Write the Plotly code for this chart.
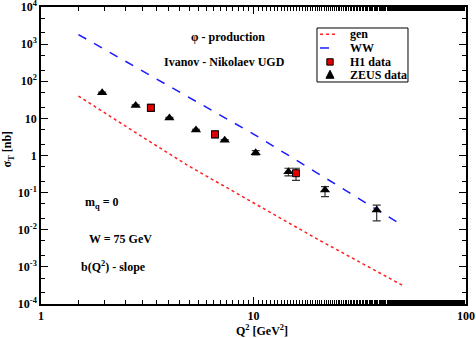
import plotly.graph_objects as go

# --- data ---
q2_curve = [1.5, 2, 3, 5, 7, 10, 15, 20, 30, 50]
sigma_gen = [40, 13.9, 3.16, 0.506, 0.168, 0.052, 0.0138, 0.00556, 0.00158, 0.000324]
sigma_ww = [1810, 714, 194, 36.9, 12.2, 3.78, 0.92, 0.336, 0.0805, 0.0133]

q2_h1 = [3.29, 6.59, 15.85]
sigma_h1 = [19.3, 3.72, 0.333]
h1_err_up = [4.5, 0.84, 0.12]
h1_err_dn = [3.9, 0.76, 0.118]

q2_zeus = [1.94, 2.79, 4.02, 5.36, 7.32, 10.24, 14.6, 21.7, 38.0]
sigma_zeus = [48.8, 22.3, 10.2, 4.84, 2.56, 1.19, 0.367, 0.118, 0.0343]
zeus_err_up = [2.0, 1.0, 0.5, 0.25, 0.13, 0.17, 0.086, 0.027, 0.012]
zeus_err_dn = [2.0, 1.0, 0.5, 0.25, 0.13, 0.15, 0.086, 0.040, 0.017]

y_tickvals = [1e-4, 1e-3, 1e-2, 1e-1, 1, 10, 100, 1000, 10000]
y_ticktext = ["10<sup>-4</sup>", "10<sup>-3</sup>", "10<sup>-2</sup>", "10<sup>-1</sup>",
              "1", "10", "10<sup>2</sup>", "10<sup>3</sup>", "10<sup>4</sup>"]
x_tickvals = [1, 10, 100]
x_ticktext = ["1", "10", "100"]

legend_names = ["gen", "WW", "H1 data", "ZEUS data"]

FONT = "Liberation Serif, Times New Roman, serif"
RED = "#ff2020"
BLUE = "#1a1aff"

fig = go.Figure()

fig.add_trace(go.Scatter(
    x=q2_curve, y=sigma_gen, mode="lines", name="gen",
    line=dict(color=RED, width=1.5, dash="dot")))

fig.add_trace(go.Scatter(
    x=q2_curve, y=sigma_ww, mode="lines", name="WW",
    line=dict(color=BLUE, width=1.5, dash="dash")))

fig.add_trace(go.Scatter(
    x=q2_h1, y=sigma_h1, mode="markers", name="H1 data",
    marker=dict(symbol="square", size=7, color="#e00000",
                line=dict(color="black", width=1)),
    error_y=dict(type="data", array=h1_err_up, arrayminus=h1_err_dn,
                 color="#333333", thickness=1.2, width=4)))

fig.add_trace(go.Scatter(
    x=q2_zeus, y=sigma_zeus, mode="markers", name="ZEUS data",
    marker=dict(symbol="triangle-up", size=9, color="black"),
    error_y=dict(type="data", array=zeus_err_up, arrayminus=zeus_err_dn,
                 color="#333333", thickness=1.2, width=4)))

axis_common = dict(
    type="log", showgrid=False, zeroline=False, automargin=False,
    showline=True, linecolor="black", linewidth=1.5, mirror="allticks",
    ticks="inside", ticklen=7, tickwidth=1, tickcolor="black",
    minor=dict(ticks="inside", ticklen=4, tickcolor="black", showgrid=False),
    tickfont=dict(family=FONT, size=12, color="black", weight="bold"),
    ticklabeloverflow="allow",
)

fig.update_xaxes(range=[0, 2], tickvals=x_tickvals, ticktext=x_ticktext, **axis_common)
fig.update_yaxes(range=[-4, 4], tickvals=y_tickvals, ticktext=y_ticktext, **axis_common)

txt = dict(family=FONT, size=12, color="black", weight="bold")
notes = [
    ("\u03c6 - production", 0.44, 0.899, "center"),
    ("Ivanov - Nikolaev UGD", 0.431, 0.815, "center"),
    ("m<sub>q</sub> = 0", 0.099, 0.34, "left"),
    ("W = 75 GeV", 0.108, 0.22, "left"),
    ("b(Q<sup>2</sup>) - slope", 0.089, 0.125, "left"),
]
for text, xp, yp, anchor in notes:
    fig.add_annotation(text=text, x=xp, y=yp, xref="paper", yref="paper",
                       xanchor=anchor, yanchor="middle", showarrow=False, font=txt)

# axis titles
fig.add_annotation(text="Q<sup>2</sup> [GeV<sup>2</sup>]", x=0.52, y=-0.089,
                   xref="paper", yref="paper", showarrow=False, font=txt,
                   xanchor="center", yanchor="middle")
fig.add_annotation(text="\u03c3<sub>T</sub> [nb]", x=-0.078, y=0.52,
                   xref="paper", yref="paper", showarrow=False, font=txt,
                   textangle=-90, xanchor="center", yanchor="middle")

# --- hand-made compact legend (plotly's own rows are too tall) ---
fig.add_shape(type="rect", xref="paper", yref="paper",
              x0=0.6494, x1=0.8635, y0=0.7475, y1=0.9293,
              line=dict(color="black", width=1), fillcolor="white", layer="above")
rows = [0.908, 0.862, 0.815, 0.771]
fig.add_shape(type="line", xref="paper", yref="paper", x0=0.6565, x1=0.6988,
              y0=rows[0], y1=rows[0], line=dict(color=RED, width=1.5, dash="dot"), layer="above")
fig.add_shape(type="line", xref="paper", yref="paper", x0=0.6565, x1=0.6988,
              y0=rows[1], y1=rows[1], line=dict(color=BLUE, width=1.5, dash="dash"), layer="above")
fig.add_shape(type="rect", xref="paper", yref="paper",
              x0=0.68 - 0.0075, x1=0.68 + 0.0075, y0=rows[2] - 0.0108, y1=rows[2] + 0.0108,
              line=dict(color="black", width=1), fillcolor="#e00000", layer="above")
tri = f"M {0.68 - 0.0095},{rows[3] - 0.011} L {0.68 + 0.0095},{rows[3] - 0.011} L 0.68,{rows[3] + 0.016} Z"
fig.add_shape(type="path", xref="paper", yref="paper", path=tri,
              line=dict(color="black", width=1), fillcolor="black", layer="above")
for name, yp in zip(legend_names, rows):
    fig.add_annotation(text=name, x=0.7224, y=yp, xref="paper", yref="paper",
                       xanchor="left", yanchor="middle", showarrow=False, font=txt)

fig.update_layout(
    width=476, height=338,
    margin=dict(l=41, r=10, t=7, b=34),
    paper_bgcolor="white", plot_bgcolor="white",
    font=dict(family=FONT, color="black"),
    showlegend=False,
)

# the browser's default 8px body margin would shift the whole figure
fig.write_html("out.html", config={"displayModeBar": False},
               post_script="document.body.style.margin='0';")
